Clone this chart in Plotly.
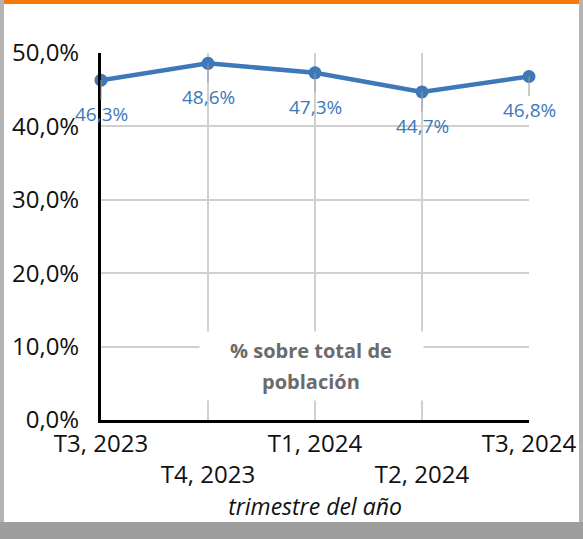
import plotly.graph_objects as go

categories = ["T3, 2023", "T4, 2023", "T1, 2024", "T2, 2024", "T3, 2024"]
values = [0.463, 0.486, 0.473, 0.447, 0.468]
y_ticks = [0, 0.1, 0.2, 0.3, 0.4, 0.5]
x_title = "trimestre del año"
legend_lines = ["% sobre total de", "población"]

W, H = 583, 539
ML, MR, MT, MB = 101, 54, 53, 119
pw, ph = W - ML - MR, H - MT - MB

def px(x):
    return (x - ML) / pw

def py(y):
    return (H - MB - y) / ph

BLUE = "#3e78b9"
FONT = "Open Sans"

xs = list(range(len(categories)))
ticktext = [c if i % 2 == 0 else "<br>" + c for i, c in enumerate(categories)]

fig = go.Figure()
fig.add_trace(go.Scatter(
    x=xs, y=values, mode="lines+markers",
    line=dict(color=BLUE, width=4.5),
    marker=dict(color=BLUE, size=13),
    cliponaxis=False, showlegend=False, hoverinfo="skip",
))

annotations = []
for x, v in zip(xs, values):
    annotations.append(dict(
        x=x, y=v, xref="x", yref="y",
        text=f"{v*100:.1f}%".replace(".", ","),
        showarrow=True, arrowhead=0, arrowwidth=1, arrowcolor="#999999",
        ax=0, ay=34, standoff=0, yanchor="middle",
        font=dict(family=FONT, size=19, color=BLUE),
    ))
annotations.append(dict(
    x=2, y=0.0, xref="x", yref="y", yshift=54, xshift=-4,
    text="", showarrow=False, width=223, height=68,
    bgcolor="white", borderpad=0,
))
for txt, ys in zip(legend_lines, [70, 39]):
    annotations.append(dict(
        x=2, y=0.0, xref="x", yref="y", yshift=ys, xshift=-4,
        text=txt, showarrow=False,
        font=dict(family=FONT, size=20, color="#6b6b6b", weight="bold"),
    ))

shapes = [
    dict(type="rect", xref="paper", yref="paper", x0=px(0), x1=px(4), y0=py(H), y1=py(0),
         fillcolor="#b4b4b4", line=dict(width=0), layer="above"),
    dict(type="rect", xref="paper", yref="paper", x0=px(579), x1=px(W), y0=py(H), y1=py(0),
         fillcolor="#b4b4b4", line=dict(width=0), layer="above"),
    dict(type="rect", xref="paper", yref="paper", x0=px(4), x1=px(579), y0=py(4), y1=py(0),
         fillcolor="#f57a0a", line=dict(width=0), layer="above"),
    dict(type="rect", xref="paper", yref="paper", x0=px(0), x1=px(W), y0=py(H), y1=py(522),
         fillcolor="#9e9e9e", line=dict(width=0), layer="above"),
]

fig.update_layout(
    width=W, height=H, autosize=False,
    margin=dict(l=ML, r=MR, t=MT, b=MB, autoexpand=False),
    paper_bgcolor="white", plot_bgcolor="white",
    separators=",.",
    font=dict(family=FONT, size=24, color="#111111"),
    annotations=annotations, shapes=shapes,
    xaxis=dict(
        range=[0, 4], tickvals=xs, ticktext=ticktext, automargin=False,
        showgrid=True, gridcolor="#d0d0d0", gridwidth=2,
        showline=True, linecolor="black", linewidth=3,
        ticks="", ticklabelstandoff=0,
        tickfont=dict(family=FONT, size=24, color="#111111"),
        title=dict(text=x_title, font=dict(family=FONT, size=23, color="#111111", style="italic"), standoff=9),
        zeroline=False, fixedrange=True,
    ),
    yaxis=dict(
        range=[0, 0.5], tickvals=y_ticks, tickformat=".1%", automargin=False,
        showgrid=True, gridcolor="#d0d0d0", gridwidth=2,
        showline=True, linecolor="black", linewidth=3,
        ticks="", ticklabelstandoff=14,
        tickfont=dict(family=FONT, size=24, color="#111111"),
        zeroline=False, fixedrange=True,
    ),
)

fig.write_html(
    "out.html",
    config={"displayModeBar": False, "responsive": False},
    default_width="583px", default_height="539px",
    post_script=(
        "document.documentElement.style.margin='0';"
        "document.documentElement.style.overflow='hidden';"
        "document.body.style.margin='0';document.body.style.overflow='hidden';"
        "Plotly.relayout(document.getElementById('{plot_id}'),{width:583,height:539});"
    ),
)
